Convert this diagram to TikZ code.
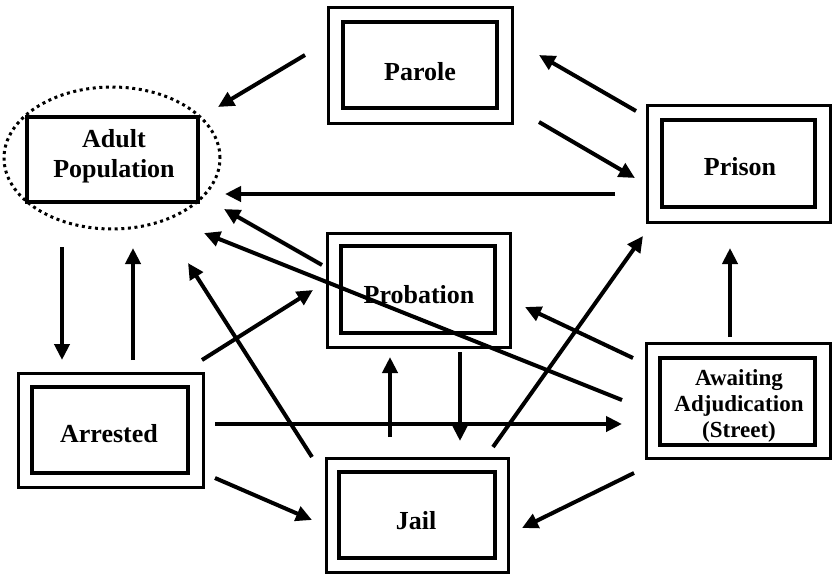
\documentclass[tikz,border=0pt]{standalone}
\usepackage{fontspec}
\setmainfont{Liberation Serif}
\usetikzlibrary{arrows.meta}
\begin{document}
\begin{tikzpicture}[x=1pt,y=-1pt,
  outerbox/.style={draw,line width=3pt,inner sep=0pt,outer sep=0pt},
  innerbox/.style={draw,line width=4pt,inner sep=0pt,outer sep=0pt},
  lbl/.style={font=\fontsize{26}{30}\selectfont\bfseries,align=center,inner sep=0pt},
  smalllbl/.style={font=\fontsize{23}{26}\selectfont\bfseries,align=center,inner sep=0pt},
  arr/.style={line width=4pt,-{Triangle[length=16pt,width=15pt]}}]
\fill[white] (0,0) rectangle (832,576);
\useasboundingbox (0,0) rectangle (832,576);

% Adult population
\node[innerbox,minimum width=171pt,minimum height=85pt] (adult) at (112.5,159.5) {};
\draw[line width=3pt,dash pattern=on 3pt off 3.6pt] (112,158) ellipse [x radius=108pt,y radius=71pt];
\node[lbl] (adultlbl) at (114,156) {Adult\\Population};

% Parole
\node[outerbox,minimum width=184pt,minimum height=116pt] (parole) at (420,65) {};
\node[innerbox,minimum width=154pt,minimum height=86pt] (parolein) at (420,65) {};
\node[lbl] (parolelbl) at (420,72) {Parole};

% Prison
\node[outerbox,minimum width=183pt,minimum height=117pt] (prison) at (738.5,163.5) {};
\node[innerbox,minimum width=153pt,minimum height=87pt] (prisonin) at (738.5,163.5) {};
\node[lbl] (prisonlbl) at (740,167) {Prison};

% Probation
\node[outerbox,minimum width=183pt,minimum height=114pt] (probation) at (418.5,290) {};
\node[innerbox,minimum width=154pt,minimum height=87pt] (probationin) at (418,289.5) {};
\node[lbl] (probationlbl) at (419,295) {Probation};

% Arrested
\node[outerbox,minimum width=185pt,minimum height=114pt] (arrested) at (110.5,430) {};
\node[innerbox,minimum width=156pt,minimum height=86pt] (arrestedin) at (110,430) {};
\node[lbl] (arrestedlbl) at (109,434) {Arrested};

% Jail
\node[outerbox,minimum width=182pt,minimum height=114pt] (jail) at (417,515) {};
\node[innerbox,minimum width=156pt,minimum height=86pt] (jailin) at (417,515) {};
\node[lbl] (jaillbl) at (416,521) {Jail};

% Awaiting adjudication
\node[outerbox,minimum width=184pt,minimum height=115pt] (await) at (738,400.5) {};
\node[innerbox,minimum width=155pt,minimum height=87pt] (awaitin) at (737.5,401.5) {};
\node[smalllbl] (awaitlbl) at (739,406) {Awaiting\\Adjudication\\(Street)};

% connector end points
\coordinate (pa1) at (305,55);  \coordinate (pa2) at (218,107);
\coordinate (pp1) at (636,111); \coordinate (pp2) at (539,55);
\coordinate (pr1) at (539,122); \coordinate (pr2) at (635,178);
\coordinate (ra1) at (615,194); \coordinate (ra2) at (225,194);
\coordinate (ba1) at (322,265); \coordinate (ba2) at (224,209);
\coordinate (wa1) at (622,400); \coordinate (wa2) at (204,233);
\coordinate (ja1) at (312,457); \coordinate (ja2) at (188,263);
\coordinate (ar1) at (62,247);  \coordinate (ar2) at (62,360);
\coordinate (ra3) at (133,360); \coordinate (ra4) at (133,248);
\coordinate (rb1) at (202,360); \coordinate (rb2) at (313,290);
\coordinate (rw1) at (215,424); \coordinate (rw2) at (622,424);
\coordinate (rj1) at (215,478); \coordinate (rj2) at (312,520);
\coordinate (jb1) at (390,437); \coordinate (jb2) at (390,357);
\coordinate (bj1) at (460,352); \coordinate (bj2) at (460,441);
\coordinate (jp1) at (493,447); \coordinate (jp2) at (643,236);
\coordinate (wb1) at (633,358); \coordinate (wb2) at (525,307);
\coordinate (wp1) at (730,337); \coordinate (wp2) at (730,248);
\coordinate (wj1) at (634,473); \coordinate (wj2) at (522,528);

\draw[arr] (pa1) -- (pa2);
\draw[arr] (pp1) -- (pp2);
\draw[arr] (pr1) -- (pr2);
\draw[arr] (ra1) -- (ra2);
\draw[arr] (ba1) -- (ba2);
\draw[arr] (wa1) -- (wa2);
\draw[arr] (ja1) -- (ja2);
\draw[arr] (ar1) -- (ar2);
\draw[arr] (ra3) -- (ra4);
\draw[arr] (rb1) -- (rb2);
\draw[arr] (rw1) -- (rw2);
\draw[arr] (rj1) -- (rj2);
\draw[arr] (jb1) -- (jb2);
\draw[arr] (bj1) -- (bj2);
\draw[arr] (jp1) -- (jp2);
\draw[arr] (wb1) -- (wb2);
\draw[arr] (wp1) -- (wp2);
\draw[arr] (wj1) -- (wj2);
\end{tikzpicture}
\end{document}
